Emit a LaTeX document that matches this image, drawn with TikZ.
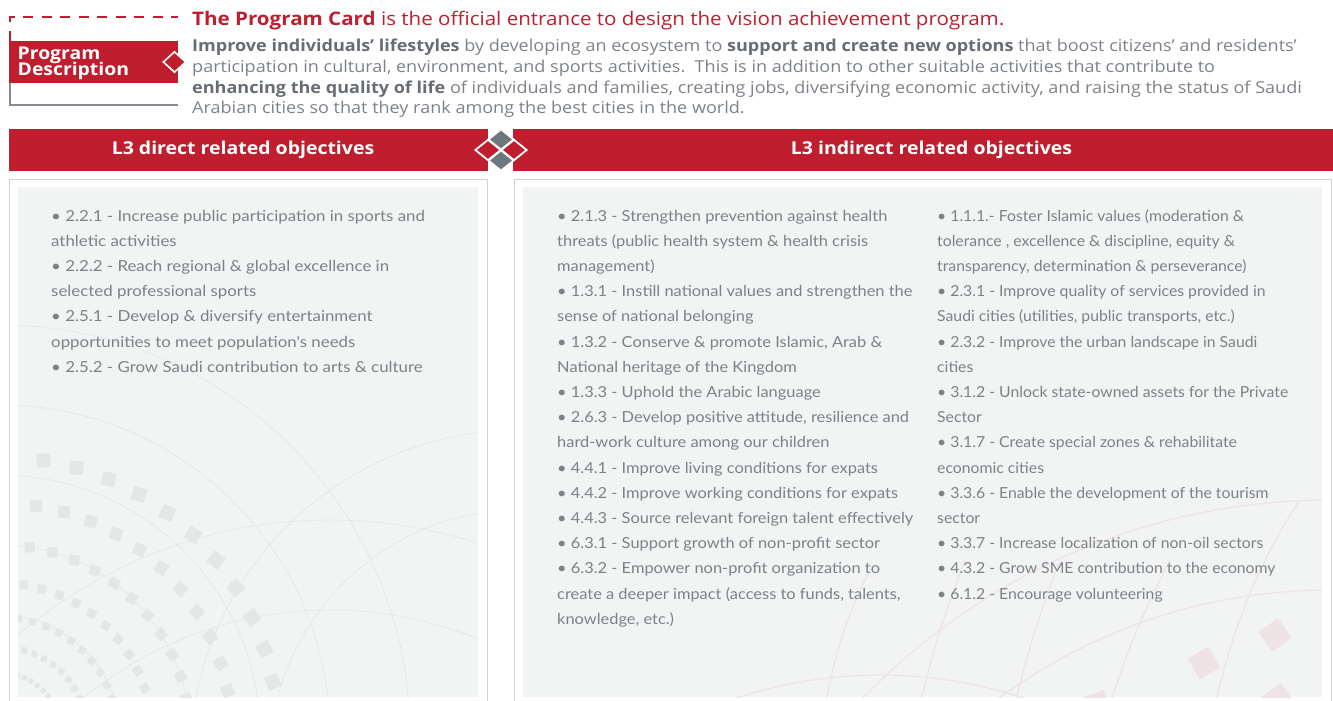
\documentclass[tikz,border=0pt]{standalone}
\usepackage{fontspec}
\setmainfont{Open Sans}[FakeStretch=1.1]
\newfontfamily\listfont{Lato}[FakeStretch=1.08]
\newfontfamily\listfontL{Lato}[FakeStretch=1.11]
\newfontfamily\listfontC{Lato}[FakeStretch=1.037]
\usetikzlibrary{shapes.geometric}
\definecolor{brand}{HTML}{BE1E2D}
\definecolor{txtgray}{HTML}{7D8288}
\definecolor{dgray}{HTML}{686D74}
\definecolor{dmgray}{HTML}{6F777E}
\definecolor{linegray}{HTML}{868B91}
\definecolor{bordergray}{HTML}{D2D2D2}
\definecolor{panelfill}{HTML}{F2F3F3}
\definecolor{patgray}{HTML}{E5E6E6}
\definecolor{patline}{HTML}{E7E8E8}
\definecolor{patpink}{HTML}{EFE3E5}
\begin{document}
\begin{tikzpicture}[x=1pt,y=-1pt,
  desc/.style={anchor=base west, inner sep=0, text=txtgray, font=\fontsize{16.4}{20}\selectfont},
  titletxt/.style={anchor=base west, inner sep=0, text=brand, font=\fontsize{18.7}{22}\selectfont},
  listtxt/.style={anchor=base west, inner sep=0, text=txtgray, font=\listfont\fontsize{15.2}{18}\selectfont},
  listtxtL/.style={listtxt, font=\listfontL\fontsize{15.2}{18}\selectfont},
  listtxtC/.style={listtxt, font=\listfontC\fontsize{15.2}{18}\selectfont},
  hdrtxt/.style={inner sep=0, text=white, font=\bfseries\fontsize{17.7}{20}\selectfont},
  pdtxt/.style={anchor=base west, inner sep=0, text=white, font=\bfseries\fontsize{17.6}{17}\selectfont},
  bar/.style={fill=brand, anchor=north west, inner sep=0, minimum height=42pt},
  reddia/.style={diamond, fill=brand, draw=white, line width=1.8pt, inner sep=0, minimum width=26pt, minimum height=21pt},
  graydia/.style={diamond, fill=dmgray, draw=white, line width=1.8pt, inner sep=0, minimum width=26pt, minimum height=21pt},
  panelfillbox/.style={fill=panelfill, anchor=north west, inner sep=0},
]
\useasboundingbox (0,0) rectangle (1333,701);

% ---------- Program description block ----------
\draw[brand, line width=1.6pt, dash pattern=on 10pt off 8.5pt] (10,41) -- (10,17) -- (178,17);
\draw[linegray, line width=1.5pt] (10,83) -- (10,105) -- (178,105);
\node[bar, minimum width=169pt] (pdbox) at (9,41) {};
\node[pdtxt] (pd1) at (17.5,59.3) {Program};
\node[pdtxt] (pd2) at (17.5,76) {Description};
\node[reddia, minimum width=23pt, minimum height=21pt, line width=1.6pt] (pddia) at (174.5,62) {};

\node[titletxt] (title) at (192,26) {\textbf{The Program Card} is the official entrance to design the vision achievement program.};
\node[desc] (d1) at (192,52) {{\color{dgray}\textbf{Improve individuals’ lifestyles}} by developing an ecosystem to {\color{dgray}\textbf{support and create new options}} that boost citizens’ and residents’};
\node[desc] (d2) at (192,72.5) {participation in cultural, environment, and sports activities.\ \ This is in addition to other suitable activities that contribute to};
\node[desc] (d3) at (192,93) {{\color{dgray}\textbf{enhancing the quality of life}} of individuals and families, creating jobs, diversifying economic activity, and raising the status of Saudi};
\node[desc] (d4) at (192,113.5) {Arabian cities so that they rank among the best cities in the world.};

% ---------- Header bars ----------
\node[bar, minimum width=479pt] (barL) at (9,129) {};
\node[bar, minimum width=820pt] (barR) at (513,129) {};
\node[hdrtxt] (hL) at (243,150) {L3 direct related objectives};
\node[hdrtxt] (hR) at (931.5,150) {L3 indirect related objectives};

\node[reddia] (dL) at (488,150) {};
\node[reddia] (dR) at (514,150) {};
\node[graydia] (dT) at (501,139.5) {};
\node[graydia] (dB) at (501,160.5) {};

% ---------- Panels ----------
\draw[bordergray, line width=1.2pt] (9.5,705) -- (9.5,179.5) -- (487.5,179.5) -- (487.5,705);
\draw[bordergray, line width=1.2pt] (514.5,705) -- (514.5,179.5) -- (1331.5,179.5) -- (1331.5,705);
\node[panelfillbox, minimum width=460pt, minimum height=510pt] (pL) at (18,187) {};
\node[panelfillbox, minimum width=799pt, minimum height=510pt] (pR) at (523,187) {};

% decorative pattern, left panel
\begin{scope}
\clip (18,187) rectangle (478,697);
\foreach \rr in {120,190,260,330,410}
  \draw[patline, line width=0.8pt] (0,735) circle (\rr);
\foreach \rr in {300,390,480}
  \draw[patline, line width=0.8pt] (330,1000) circle (\rr);
\foreach \rr in {250,330}
  \draw[patline, line width=0.8pt] (520,760) circle (\rr);
\foreach \r in {40,62,88,118,152,190,232,278} {
  \foreach \a in {4,11,...,88} {
    \pgfmathsetmacro{\px}{0+\r*cos(\a)}
    \pgfmathsetmacro{\py}{735-\r*sin(\a)}
    \pgfmathsetmacro{\s}{0.02*\r+1.3}
    \fill[patgray, shift={(\px,\py)}, rotate=\a+12] (-\s,-\s) rectangle (\s,\s);
  }
}
\end{scope}

% decorative pattern, right panel
\begin{scope}
\clip (523,187) rectangle (1322,697);
\draw[patpink, line width=1.2pt] (880,1130) circle (455);
\draw[patpink, line width=1.2pt] (1330,1150) circle (560);
\draw[patpink, line width=1.2pt] (1330,1150) circle (650);
\draw[patpink, line width=1.2pt] (825,705) .. controls (840,630) and (855,600) .. (870,570);
\draw[patpink, line width=1.2pt] (920,705) .. controls (935,640) and (950,600) .. (965,560);
\draw[patpink, line width=1.2pt] (1015,705) .. controls (1030,640) and (1045,600) .. (1060,560);
\draw[patpink, line width=1.2pt] (1215,705) .. controls (1235,620) and (1260,560) .. (1300,500);
\draw[patpink, line width=1.2pt] (1110,705) .. controls (1130,640) and (1150,600) .. (1170,560);
\fill[patpink, shift={(1204,663)}, rotate=30] (-12,-12) rectangle (12,12);
\fill[patpink, shift={(1275,635)}, rotate=35] (-12,-12) rectangle (12,12);
\fill[patpink, shift={(1095,708)}, rotate=20] (-14,-14) rectangle (14,14);
\fill[patpink, shift={(1278,700)}, rotate=35] (-12,-12) rectangle (12,12);
\end{scope}

% ---------- Lists ----------
\foreach [count=\i] \t in {
  {• 2.2.1 - Increase public participation in sports and},
  {athletic activities},
  {• 2.2.2 - Reach regional \& global excellence in},
  {selected professional sports},
  {• 2.5.1 - Develop \& diversify entertainment},
  {opportunities to meet population's needs},
  {• 2.5.2 - Grow Saudi contribution to arts \& culture}}
  \node[listtxtL] (la\i) at (51,221+25.2*\i-25.2) {\t};

\foreach [count=\i] \t in {
  {• 2.1.3 - Strengthen prevention against health},
  {threats (public health system \& health crisis},
  {management)},
  {• 1.3.1 - Instill national values and strengthen the},
  {sense of national belonging},
  {• 1.3.2 - Conserve \& promote Islamic, Arab \&},
  {National heritage of the Kingdom},
  {• 1.3.3 - Uphold the Arabic language},
  {• 2.6.3 - Develop positive attitude, resilience and},
  {hard-work culture among our children},
  {• 4.4.1 - Improve living conditions for expats},
  {• 4.4.2 - Improve working conditions for expats},
  {• 4.4.3 - Source relevant foreign talent effectively},
  {• 6.3.1 - Support growth of non-profit sector},
  {• 6.3.2 - Empower non-profit organization to},
  {create a deeper impact (access to funds, talents,},
  {knowledge, etc.)}}
  \node[listtxt] (lb\i) at (557,221+25.2*\i-25.2) {\t};

\foreach [count=\i] \t in {
  {• 1.1.1.- Foster Islamic values (moderation \&},
  {tolerance , excellence \& discipline, equity \&},
  {transparency, determination \& perseverance)},
  {• 2.3.1 - Improve quality of services provided in},
  {Saudi cities (utilities, public transports, etc.)},
  {• 2.3.2 - Improve the urban landscape in Saudi},
  {cities},
  {• 3.1.2 - Unlock state-owned assets for the Private},
  {Sector},
  {• 3.1.7 - Create special zones \& rehabilitate},
  {economic cities},
  {• 3.3.6 - Enable the development of the tourism},
  {sector},
  {• 3.3.7 - Increase localization of non-oil sectors},
  {• 4.3.2 - Grow SME contribution to the economy},
  {• 6.1.2 - Encourage volunteering}}
  \node[listtxtC] (lc\i) at (937,221+25.2*\i-25.2) {\t};
\end{tikzpicture}
\end{document}
